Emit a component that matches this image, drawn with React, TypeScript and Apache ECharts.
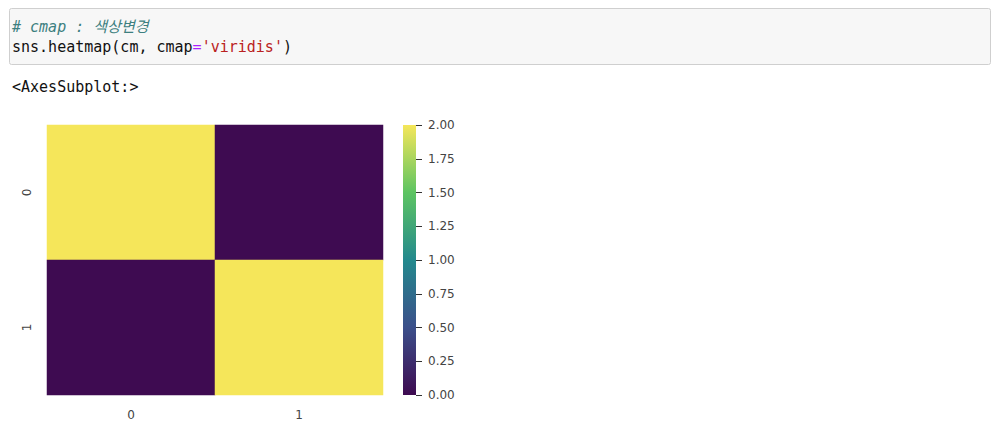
import React, { useEffect, useRef } from "react";
import * as echarts from "echarts";

const xCategories = ["0", "1"];
const yCategories = ["0", "1"];
// [xIndex, yIndex, value]
const cmValues: [number, number, number][] = [
  [0, 0, 2],
  [1, 0, 0],
  [0, 1, 0],
  [1, 1, 2],
];
const colorbarMin = 0;
const colorbarMax = 2;
const colorbarStep = 0.25;
const viridis = ["#3e0b51", "#3b4f8a", "#23898d", "#5dc462", "#f5e65a"];

const codeLine1 = "# cmap : 색상변경";
const outputText = "<AxesSubplot:>";

export default function App() {
  const ref = useRef<HTMLDivElement>(null);
  useEffect(() => {
    if (!ref.current) return;
    const chart = echarts.init(ref.current, undefined, { renderer: "svg" });
    const mono = "'DejaVu Sans Mono', 'Noto Sans CJK KR', monospace";
    const labelFont = "'DejaVu Sans', 'Noto Sans', sans-serif";
    chart.setOption({
      animation: false,
      backgroundColor: "#ffffff",
      graphic: [
        {
          type: "rect",
          shape: { x: 9.5, y: 8.5, width: 981, height: 56, r: 2 },
          style: { fill: "#f7f7f7", stroke: "#cfcfcf", lineWidth: 1 },
          z: 0,
        },
        {
          type: "text",
          x: 12,
          y: 27,
          style: {
            text: codeLine1,
            font: `italic 15px ${mono}`,
            fill: "#3d7f7f",
            verticalAlign: "middle",
          },
        },
        {
          type: "text",
          x: 12,
          y: 47,
          style: {
            text: "{a|sns.heatmap(cm, cmap}{b|=}{c|'viridis'}{a|)}",
            font: `15px ${mono}`,
            verticalAlign: "middle",
            rich: {
              a: { fill: "#111111", font: `15px ${mono}` },
              b: { fill: "#aa22ff", font: `15px ${mono}` },
              c: { fill: "#ba2121", font: `15px ${mono}` },
            },
          },
        },
        {
          type: "text",
          x: 12,
          y: 87,
          style: {
            text: outputText,
            font: `15px ${mono}`,
            fill: "#111111",
            verticalAlign: "middle",
          },
        },
      ],
      grid: [
        { left: 47, top: 125, width: 336, height: 270 },
        { left: 403, top: 125, width: 13, height: 270 },
      ],
      xAxis: [
        {
          type: "category",
          gridIndex: 0,
          data: xCategories,
          axisLine: { show: false },
          axisTick: { show: false },
          splitLine: { show: false },
          axisLabel: { color: "#444444", fontSize: 12, fontFamily: labelFont, margin: 14 },
        },
        {
          type: "category",
          gridIndex: 1,
          data: ["c"],
          show: false,
        },
      ],
      yAxis: [
        {
          type: "category",
          gridIndex: 0,
          data: yCategories,
          inverse: true,
          axisLine: { show: false },
          axisTick: { show: false },
          splitLine: { show: false },
          axisLabel: {
            color: "#444444",
            fontSize: 12,
            fontFamily: labelFont,
            rotate: 90,
            margin: 14,
          },
        },
        {
          type: "value",
          gridIndex: 1,
          position: "right",
          min: colorbarMin,
          max: colorbarMax,
          interval: colorbarStep,
          axisLine: { show: false },
          splitLine: { show: false },
          axisTick: { show: true, length: 6, lineStyle: { color: "#333333", width: 1 } },
          axisLabel: {
            color: "#444444",
            fontSize: 12,
            fontFamily: labelFont,
            margin: 12,
            formatter: (v: number) => v.toFixed(2),
          },
        },
      ],
      visualMap: {
        show: false,
        min: colorbarMin,
        max: colorbarMax,
        seriesIndex: 0,
        dimension: 2,
        inRange: { color: viridis },
      },
      series: [
        {
          type: "heatmap",
          xAxisIndex: 0,
          yAxisIndex: 0,
          data: cmValues,
          itemStyle: { borderWidth: 0 },
          emphasis: { disabled: true },
        },
        {
          type: "bar",
          xAxisIndex: 1,
          yAxisIndex: 1,
          data: [colorbarMax],
          barWidth: "100%",
          itemStyle: {
            color: new echarts.graphic.LinearGradient(
              0,
              0,
              0,
              1,
              viridis
                .slice()
                .reverse()
                .map((c, i) => ({ offset: i / (viridis.length - 1), color: c }))
            ),
          },
        },
      ],
    });
    return () => chart.dispose();
  }, []);
  return (
    <div
      ref={ref}
      style={{ position: "fixed", left: 0, top: 0, width: 1000, height: 432 }}
    />
  );
}
